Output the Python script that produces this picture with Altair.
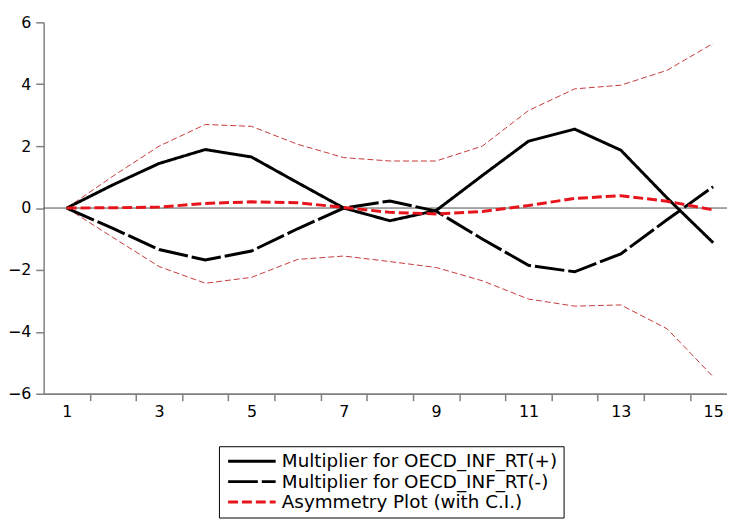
import altair as alt
import pandas as pd

periods = list(range(1, 16))
pos_mult = [0.0, 0.75, 1.44, 1.89, 1.65, 0.82, 0.0, -0.41, -0.08, 1.05, 2.16, 2.55, 1.87, 0.33, -1.12]
neg_mult = [0.0, -0.66, -1.34, -1.68, -1.39, -0.67, 0.0, 0.23, -0.10, -1.00, -1.85, -2.06, -1.48, -0.38, 0.69]
asym = [0.0, 0.01, 0.03, 0.15, 0.20, 0.17, 0.02, -0.14, -0.19, -0.11, 0.08, 0.31, 0.40, 0.22, -0.06]
ci_upper = [0.0, 1.03, 2.00, 2.70, 2.64, 2.06, 1.63, 1.52, 1.52, 2.00, 3.15, 3.85, 3.97, 4.45, 5.32]
ci_lower = [0.0, -0.95, -1.89, -2.43, -2.24, -1.66, -1.55, -1.73, -1.92, -2.35, -2.94, -3.17, -3.13, -3.90, -5.45]

series_names = [
    "Multiplier for OECD_INF_RT(+)",
    "Multiplier for OECD_INF_RT(-)",
    "Asymmetry Plot (with C.I.)",
]
x_label_values = [1, 3, 5, 7, 9, 11, 13, 15]
x_tick_values = [1.5, 2.5, 3.5, 4.5, 5.5, 6.5, 7.5, 8.5, 9.5, 10.5, 11.5, 12.5, 13.5, 14.5]
y_tick_values = [-6, -4, -2, 0, 2, 4, 6]

rows = []
for name, vals in zip(series_names, [pos_mult, neg_mult, asym]):
    for p, v in zip(periods, vals):
        rows.append({"period": p, "value": v, "series": name})
main_df = pd.DataFrame(rows)

ci_rows = []
for bound, vals in [("upper", ci_upper), ("lower", ci_lower)]:
    for p, v in zip(periods, vals):
        ci_rows.append({"period": p, "value": v, "bound": bound})
ci_df = pd.DataFrame(ci_rows)

zero_df = pd.DataFrame({"value": [0]})

FONT = "DejaVu Sans"
AXIS_GRAY = "#808080"
X_DOMAIN = [0.5, 15.3]

common_axis = dict(
    orient="bottom",
    grid=False,
    domainColor=AXIS_GRAY,
    domainWidth=1.5,
    tickColor=AXIS_GRAY,
    tickWidth=1.5,
    labelFont=FONT,
    labelFontSize=16,
    labelColor="black",
    labelFlush=False,
)

# axis carrying the labels (odd periods), no tick marks
x_label_enc = alt.X(
    "period:Q",
    title=None,
    scale=alt.Scale(domain=X_DOMAIN, nice=False, zero=False),
    axis=alt.Axis(values=x_label_values, ticks=False, labelPadding=10,
                  labelOverlap=False, format="d", **common_axis),
)
# axis carrying the tick marks between periods, no labels
x_tick_enc = alt.X(
    "period:Q",
    title=None,
    scale=alt.Scale(domain=X_DOMAIN, nice=False, zero=False),
    axis=alt.Axis(values=x_tick_values, labels=False, tickSize=7, **common_axis),
)
y_enc = alt.Y(
    "value:Q",
    title=None,
    scale=alt.Scale(domain=[-6, 6], nice=False, zero=False),
    axis=alt.Axis(
        values=y_tick_values,
        tickSize=8,
        labelPadding=5,
        grid=False,
        domainColor=AXIS_GRAY,
        domainWidth=1.5,
        tickColor=AXIS_GRAY,
        tickWidth=1.5,
        labelFont=FONT,
        labelFontSize=16,
        labelColor="black",
        labelOverlap=False,
        labelFlush=False,
    ),
)

legend = alt.Legend(
    title=None,
    orient="none",
    legendX=177,
    legendY=428,
    symbolType="M-1.2,0H8.4",
    symbolSize=100,
    symbolStrokeWidth=3,
    symbolOffset=0,
    labelOffset=39,
    labelFont=FONT,
    labelFontSize=18.5,
    labelColor="black",
    labelLimit=500,
    rowPadding=1.5,
    padding=6,
    strokeColor="black",
    fillColor="white",
)

zero_line = alt.Chart(zero_df).mark_rule(color="#4d4d4d", strokeWidth=1).encode(y=y_enc)

ci_lines = alt.Chart(ci_df).mark_line(
    color="#c43a3a", strokeWidth=1, strokeDash=[6, 3]
).encode(x=x_tick_enc, y=y_enc, detail="bound:N")

main_lines = alt.Chart(main_df).mark_line(strokeWidth=3, strokeCap="butt").encode(
    x=x_label_enc,
    y=y_enc,
    color=alt.Color(
        "series:N",
        scale=alt.Scale(domain=series_names, range=["#000000", "#000000", "#e8141c"]),
        legend=legend,
    ),
    strokeDash=alt.StrokeDash(
        "series:N",
        scale=alt.Scale(domain=series_names, range=[[1, 0], [30, 4], [10, 4]]),
        legend=legend,
    ),
)

chart = (
    alt.layer(zero_line, ci_lines, main_lines)
    .resolve_scale(x="independent")
    .resolve_axis(x="independent")
    .properties(
        width=690,
        height=375,
        autosize=alt.AutoSizeParams(type="none"),
        padding={"left": 36, "top": 12, "right": 0, "bottom": 125},
    )
    .configure_view(stroke=None)
)

chart.save("out.html", embed_options={"renderer": "svg", "actions": False})
